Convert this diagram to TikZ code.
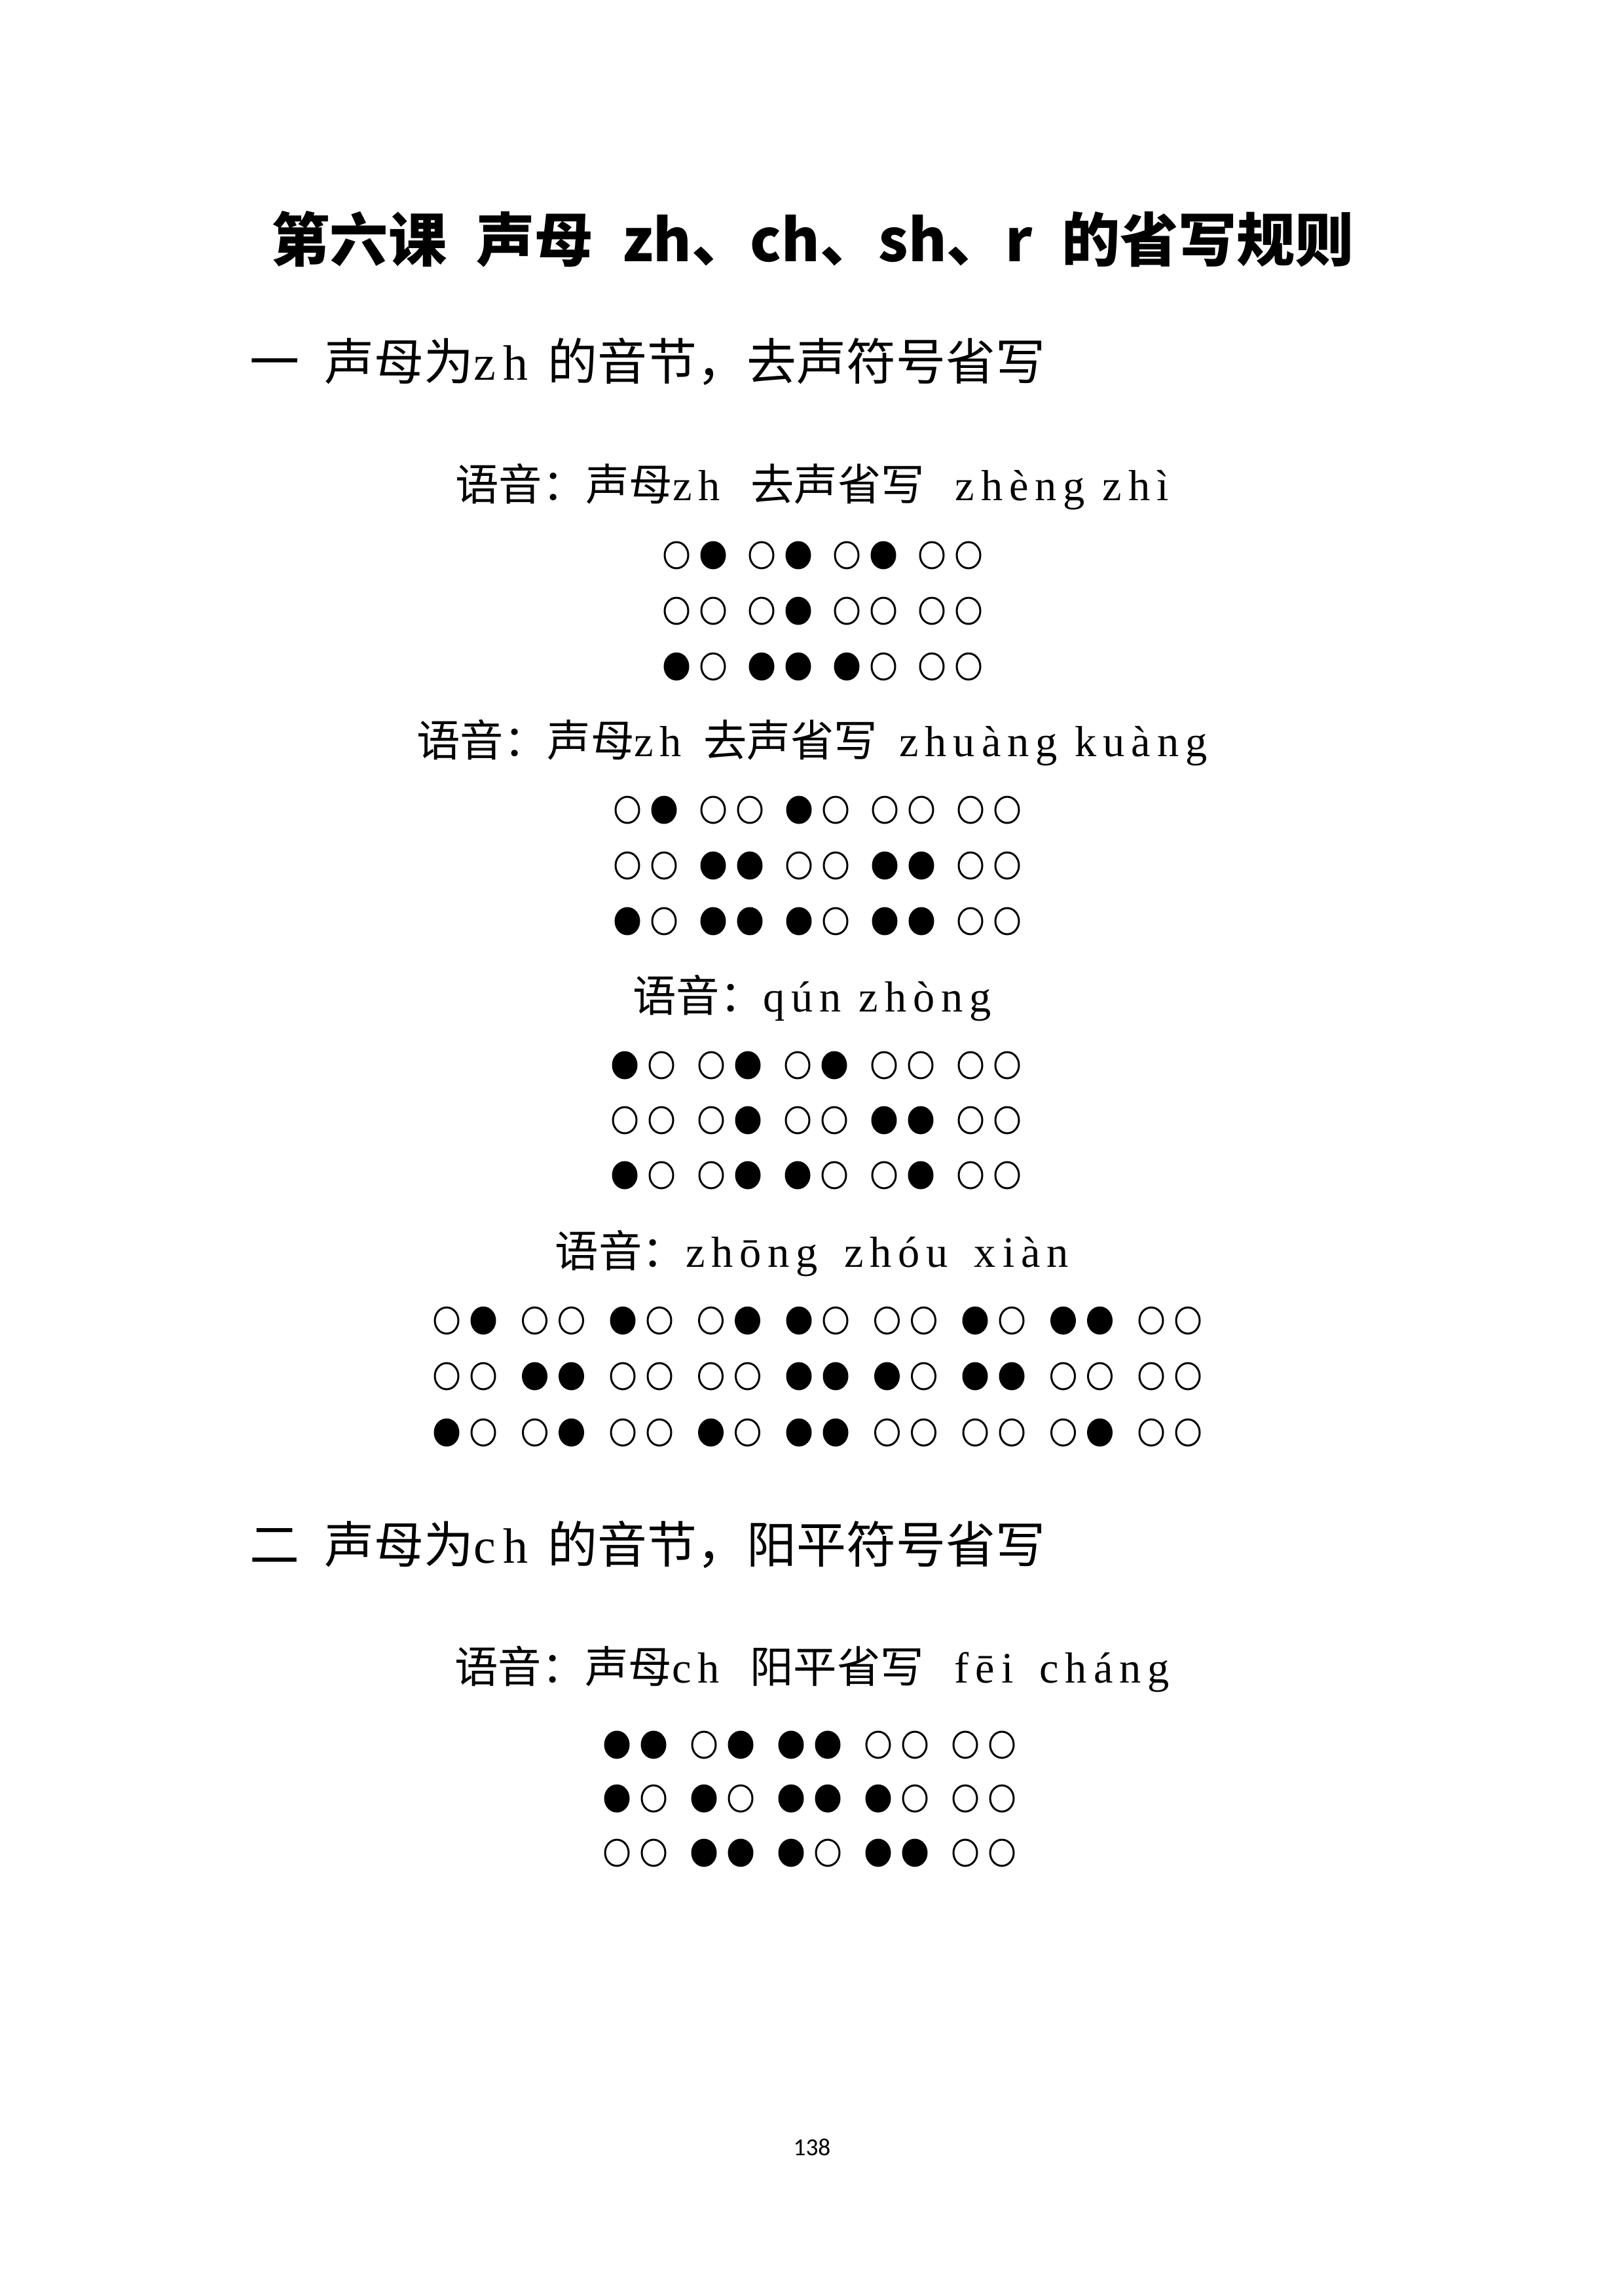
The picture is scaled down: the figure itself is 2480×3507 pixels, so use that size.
\documentclass[tikz,border=0pt]{standalone}
\usepackage{fontspec}
\newfontfamily\cjk{Noto Sans CJK SC}
\newfontfamily\py[LetterSpace=15]{Liberation Serif}
\newfontfamily\pagefont{Carlito}

\tikzset{every picture/.style={line width=0.72pt}}
\tikzset{
  dot0/.style={draw=black, fill=white},
  dot1/.style={draw=black, fill=black},
  lesson/.style={font=\cjk\bfseries\fontsize{21.5}{26}\selectfont, inner sep=0pt},
  heading/.style={font=\cjk\fontsize{18.3}{22}\selectfont, anchor=west, inner sep=0pt},
  voice/.style={font=\cjk\fontsize{16}{20}\selectfont, inner sep=0pt},
}

% one row of braille dots: first dot x, row y, cell pitch, list of 0/1
\newcommand{\brow}[4]{%
  \foreach \v [count=\k from 0] in {#4}{%
    \pgfmathsetmacro{\dx}{#1+int(\k/2)*#3+mod(\k,2)*56}%
    \draw[dot\v] (\dx,#2) ellipse [x radius=18, y radius=20];
  }}

\begin{document}
\begin{tikzpicture}[x=0.2409pt,y=0.2409pt,yscale=-1,xscale=1]
\useasboundingbox (0,0) rectangle (2480,3507);

%Text: title
\node[lesson] (title) at (1241,365) {第六课\hspace{.5em}声母\hspace{.5em}zh、ch、sh、r\hspace{.5em}的省写规则};

%Text: part one
\node[heading] (partone) at (380,552) {一\hspace{.5em}声母为{\py zh}\hspace{.4em}的音节，去声符号省写};

%Text + cells: zheng zhi
\node[voice] (zhengzhi) at (1240,743) {语音：声母{\py zh}\hspace{.7em}去声省写\hspace{.7em}{\py zhèng zhì}};
\brow{1033}{848}{130}{0,1,0,1,0,1,0,0}
\brow{1033}{933}{130}{0,0,0,1,0,0,0,0}
\brow{1033}{1018}{130}{1,0,1,1,1,0,0,0}

%Text + cells: zhuang kuang
\node[voice] (zhuangkuang) at (1240,1134) {语音：声母{\py zh}\hspace{.5em}去声省写\hspace{.5em}{\py zhuàng kuàng}};
\brow{958}{1237}{131}{0,1,0,0,1,0,0,0,0,0}
\brow{958}{1322}{131}{0,0,1,1,0,0,1,1,0,0}
\brow{958}{1407}{131}{1,0,1,1,1,0,1,1,0,0}

%Text + cells: qun zhong
\node[voice] (qunzhong) at (1240,1524) {语音：{\py qún zhòng}};
\brow{954}{1627}{132}{1,0,0,1,0,1,0,0,0,0}
\brow{954}{1711}{132}{0,0,0,1,0,0,1,1,0,0}
\brow{954}{1795}{132}{1,0,0,1,1,0,0,1,0,0}

%Text + cells: zhong zhou xian
\node[voice] (zhongzhouxian) at (1240,1914) {语音：{\py zhōng\hspace{.2em} zhóu\hspace{.2em} xiàn}};
\brow{682}{2017}{134.5}{0,1,0,0,1,0,0,1,1,0,0,0,1,0,1,1,0,0}
\brow{682}{2102}{134.5}{0,0,1,1,0,0,0,0,1,1,1,0,1,1,0,0,0,0}
\brow{682}{2188}{134.5}{1,0,0,1,0,0,1,0,1,1,0,0,0,0,0,1,0,0}

%Text: part two
\node[heading] (parttwo) at (380,2359) {二\hspace{.5em}声母为{\py ch}\hspace{.4em}的音节，阳平符号省写};

%Text + cells: fei chang
\node[voice] (feichang) at (1240,2549) {语音：声母{\py ch}\hspace{.7em}阳平省写\hspace{.7em}{\py fēi\hspace{.2em} cháng}};
\brow{942}{2665}{133}{1,1,0,1,1,1,0,0,0,0}
\brow{942}{2747}{133}{1,0,1,0,1,1,1,0,0,0}
\brow{942}{2830}{133}{0,0,1,1,1,0,1,1,0,0}

%Text: page number
\node[font=\pagefont\fontsize{9}{11}\selectfont, inner sep=0pt] (pagenum) at (1240,3280) {138};

\end{tikzpicture}
\end{document}
